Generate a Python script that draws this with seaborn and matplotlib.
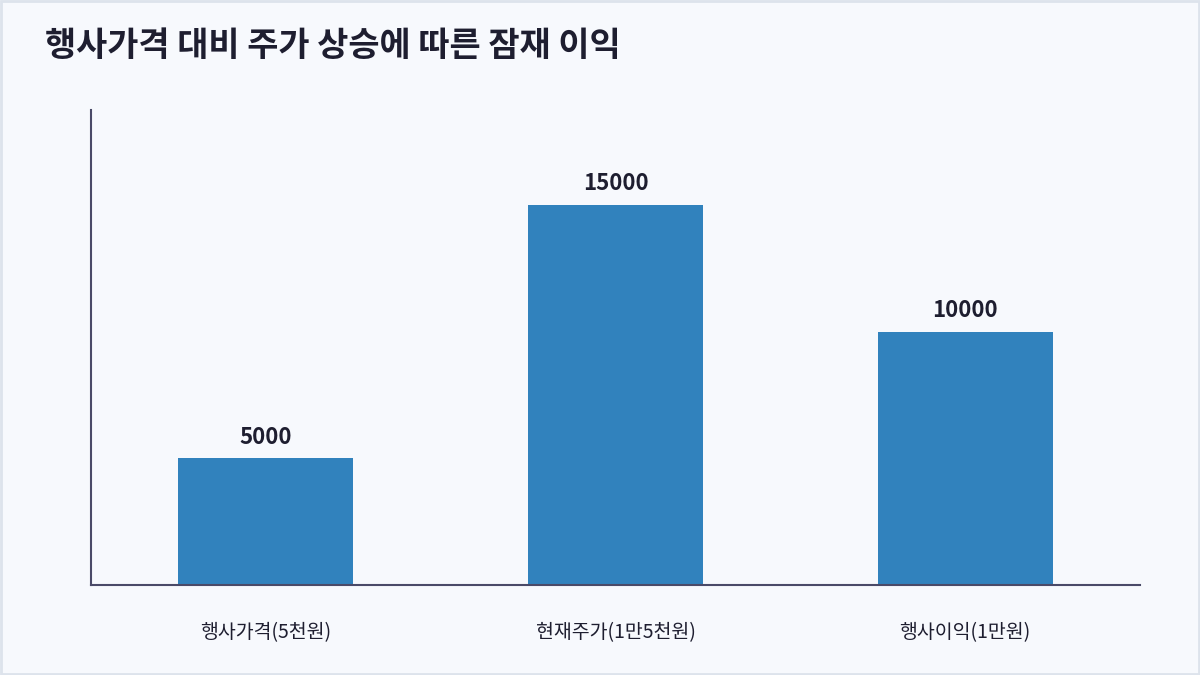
import matplotlib
matplotlib.use("Agg")
import matplotlib.pyplot as plt
import seaborn as sns
import pandas as pd
from matplotlib.patches import Rectangle

# 데이터
categories = ["행사가격(5천원)", "현재주가(1만5천원)", "행사이익(1만원)"]
values = [5000, 15000, 10000]
title = "행사가격 대비 주가 상승에 따른 잠재 이익"

df = pd.DataFrame({"category": categories, "value": values})

sns.set_style("white")
plt.rcParams["font.family"] = ["Noto Sans CJK KR", "DejaVu Sans"]

bg = "#f7f9fd"
text_color = "#1e1e30"
spine_color = "#4a4a68"

fig = plt.figure(figsize=(12, 6.75), dpi=100, facecolor=bg)
ax = fig.add_axes([0.0758, 0.1333, 0.8742, 0.7037])
ax.set_facecolor(bg)

sns.barplot(data=df, x="category", y="value", color="#3182bd",
            saturation=1, width=0.5, linewidth=0, ax=ax)

ax.set_xlim(-0.5, 2.5)
ax.set_ylim(0, max(values) * 1.25)

# 막대 위 값 표시
for i, v in enumerate(values):
    ax.annotate(f"{v}", (i, v), xytext=(0, 7), textcoords="offset points",
                ha="center", va="bottom", fontsize=16, fontweight="bold",
                color=text_color)

ax.set_xlabel("")
ax.set_ylabel("")
ax.set_yticks([])
ax.tick_params(axis="x", length=0, pad=27, labelsize=14, labelcolor=text_color)
for lbl in ax.get_xticklabels():
    lbl.set_fontweight("medium")

for s in ["top", "right"]:
    ax.spines[s].set_visible(False)
for s in ["left", "bottom"]:
    ax.spines[s].set_color(spine_color)
    ax.spines[s].set_linewidth(1.5)

fig.text(0.0375, 0.932, title, fontsize=24.4, fontweight="bold",
         color=text_color, ha="left", va="center")

# 바깥 테두리
fig.patches.append(Rectangle((0.001, 0.0015), 0.998, 0.997, transform=fig.transFigure,
                             fill=False, edgecolor="#dde3ec", linewidth=2))

fig.savefig("out.png", dpi=100, facecolor=bg)
